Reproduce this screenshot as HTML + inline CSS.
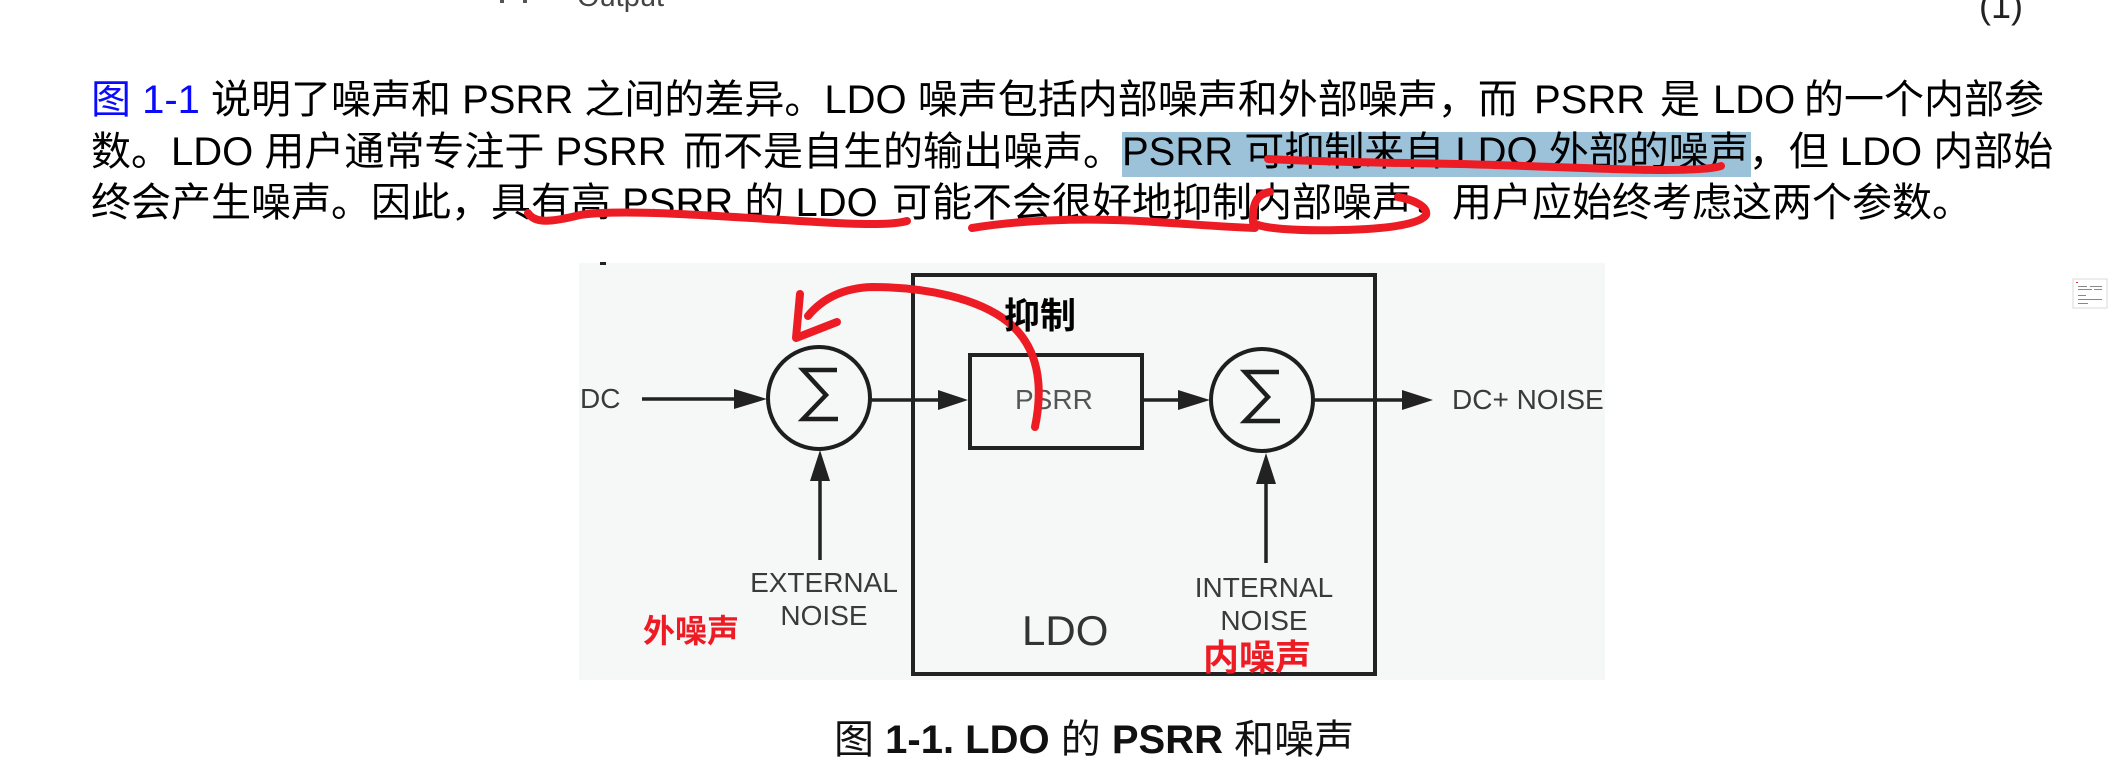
<!DOCTYPE html>
<html>
<head>
<meta charset="utf-8">
<style>
  html, body { margin: 0; padding: 0; background: #ffffff; }
  body { width: 2112px; height: 772px; overflow: hidden; }
  svg { display: block; }
  text { font-family: "Liberation Sans", "Noto Sans CJK SC", sans-serif; }
</style>
</head>
<body>
<svg width="2112" height="772" viewBox="0 0 2112 772" xmlns="http://www.w3.org/2000/svg">
  <!-- top fragments -->
  <rect x="500" y="0" width="4" height="3" fill="#555"/>
  <rect x="523" y="0" width="4" height="3" fill="#555"/>
  <text x="577" y="6" font-size="29" fill="#444">Output</text>
  <text x="1979" y="18" font-size="36" fill="#222">(1)</text>

  <!-- highlight -->
  <rect x="1122" y="132" width="629" height="45" fill="#9cc2da"/>

  <!-- paragraph line 1 -->
  <g font-size="40" fill="#000">
    <text x="91" y="113" fill="#0a0aff">图 1-1</text>
    <text x="211" y="113">说明了噪声和 PSRR 之间的差异。LDO 噪声包括内部噪声和外部噪声，而</text>
    <text x="1534" y="113">PSRR</text>
    <text x="1660" y="113">是</text>
    <text x="1713" y="113">LDO</text>
    <text x="1804" y="113">的一个内部参</text>

    <!-- line 2 -->
    <text x="91" y="165">数。LDO 用户通常专注于 PSRR</text>
    <text x="683" y="165">而不是自生的输出噪声。</text>
    <text x="1122" y="165">PSRR 可抑制来自 LDO 外部的噪声，但 LDO 内部始</text>

    <!-- line 3 -->
    <text x="91" y="216">终会产生噪声。因此，具有高 PSRR 的 LDO</text>
    <text x="892" y="216">可能不会很好地抑制内部噪声，用户应始终考虑这两个参数。</text>
  </g>

  <!-- red hand-drawn underlines -->
  <g fill="none" stroke="#ed1c24" stroke-width="8" stroke-linecap="round" stroke-linejoin="round">
    <path d="M1268,159 C1320,162 1400,163 1460,164 C1540,166 1620,170 1662,170 C1690,170 1712,169 1721,166"/>
    <path d="M528,213 C535,224 552,222 580,215 C620,209 700,215 800,221 C850,224 890,226 907,221"/>
    <path d="M972,228 C1020,220 1080,218 1140,221 C1190,224 1225,227 1255,228"/>
    <path d="M1270,192 C1256,194 1252,205 1253,222 C1258,229 1300,231 1340,230 C1390,229 1420,224 1426,215 C1428,207 1415,200 1398,197"/>
  </g>

  <!-- diagram background -->
  <rect x="579" y="263" width="1026" height="417" fill="#f6f7f7"/>
  <rect x="600" y="262" width="6" height="3" fill="#222"/>

  <!-- LDO box -->
  <rect x="913" y="275" width="462" height="399" fill="none" stroke="#222" stroke-width="4"/>
  <!-- PSRR box -->
  <rect x="970" y="355" width="172" height="93" fill="none" stroke="#222" stroke-width="4"/>

  <!-- summing circles -->
  <circle cx="819" cy="398" r="51" fill="none" stroke="#1e1e1e" stroke-width="4"/>
  <circle cx="1262" cy="400" r="51" fill="none" stroke="#1e1e1e" stroke-width="4"/>
  <path d="M837,370 L803,370 L826,395 L803,419 L838,419" fill="none" stroke="#1e1e1e" stroke-width="4.5" stroke-linejoin="miter"/>
  <path d="M1279,372 L1245,372 L1268,397 L1245,421 L1280,421" fill="none" stroke="#1e1e1e" stroke-width="4.5" stroke-linejoin="miter"/>

  <!-- arrows -->
  <g stroke="#222" stroke-width="3.5" fill="none">
    <line x1="642" y1="399" x2="740" y2="399"/>
    <line x1="870" y1="400" x2="945" y2="400"/>
    <line x1="1142" y1="400" x2="1185" y2="400"/>
    <line x1="1313" y1="400" x2="1410" y2="400"/>
    <line x1="820" y1="560" x2="820" y2="475"/>
    <line x1="1266" y1="563" x2="1266" y2="480"/>
  </g>
  <g fill="#222">
    <polygon points="767,399 734,389 734,409"/>
    <polygon points="968,400 938,390 938,410"/>
    <polygon points="1210,400 1178,390 1178,410"/>
    <polygon points="1433,400 1402,390 1402,410"/>
    <polygon points="820,450 810,481 830,481"/>
    <polygon points="1266,453 1256,484 1276,484"/>
  </g>

  <!-- diagram labels -->
  <g font-size="28" fill="#3a3a3a">
    <text x="580" y="408">DC</text>
    <text x="1015" y="409" fill="#555">PSRR</text>
    <text x="1452" y="409">DC+ NOISE</text>
    <text x="824" y="592" text-anchor="middle">EXTERNAL</text>
    <text x="824" y="625" text-anchor="middle">NOISE</text>
    <text x="1264" y="597" text-anchor="middle">INTERNAL</text>
    <text x="1264" y="630" text-anchor="middle">NOISE</text>
  </g>
  <text x="1022" y="645" font-size="42" fill="#333">LDO</text>

  <!-- red annotations -->
  <text x="643" y="642" font-size="32" font-weight="bold" fill="#ed1c24">外噪声</text>
  <text x="1203" y="670" font-size="36" font-weight="bold" fill="#ed1c24">内噪声</text>
  <g fill="none" stroke="#ed1c24" stroke-width="8" stroke-linecap="round" stroke-linejoin="round">
    <path d="M1035,427 C1043,388 1040,348 1008,322 C978,298 925,287 872,287 C842,288 822,299 808,316"/>
    <path d="M800,294 L796,338 L837,322"/>
  </g>
  <text x="1004" y="328" font-size="36" font-weight="bold" fill="#000">抑制</text>

  <!-- caption -->
  <text x="834" y="753" font-size="40" fill="#111">图 <tspan font-weight="bold">1-1. LDO</tspan> 的 <tspan font-weight="bold">PSRR</tspan> 和噪声</text>

  <!-- small thumbnail icon at right -->
  <rect x="2073" y="279" width="34" height="29" fill="#fff" stroke="#d8d8d8" stroke-width="1"/>
  <rect x="2076" y="282" width="2" height="1" fill="#d33"/>
  <g fill="#888">
    <rect x="2078" y="286" width="9" height="1"/>
    <rect x="2090" y="286" width="12" height="1"/>
    <rect x="2078" y="289" width="14" height="1"/>
    <rect x="2094" y="289" width="8" height="1"/>
    <rect x="2078" y="295" width="8" height="1"/>
    <rect x="2078" y="299" width="24" height="1"/>
    <rect x="2078" y="303" width="10" height="1"/>
  </g>
</svg>
</body>
</html>
